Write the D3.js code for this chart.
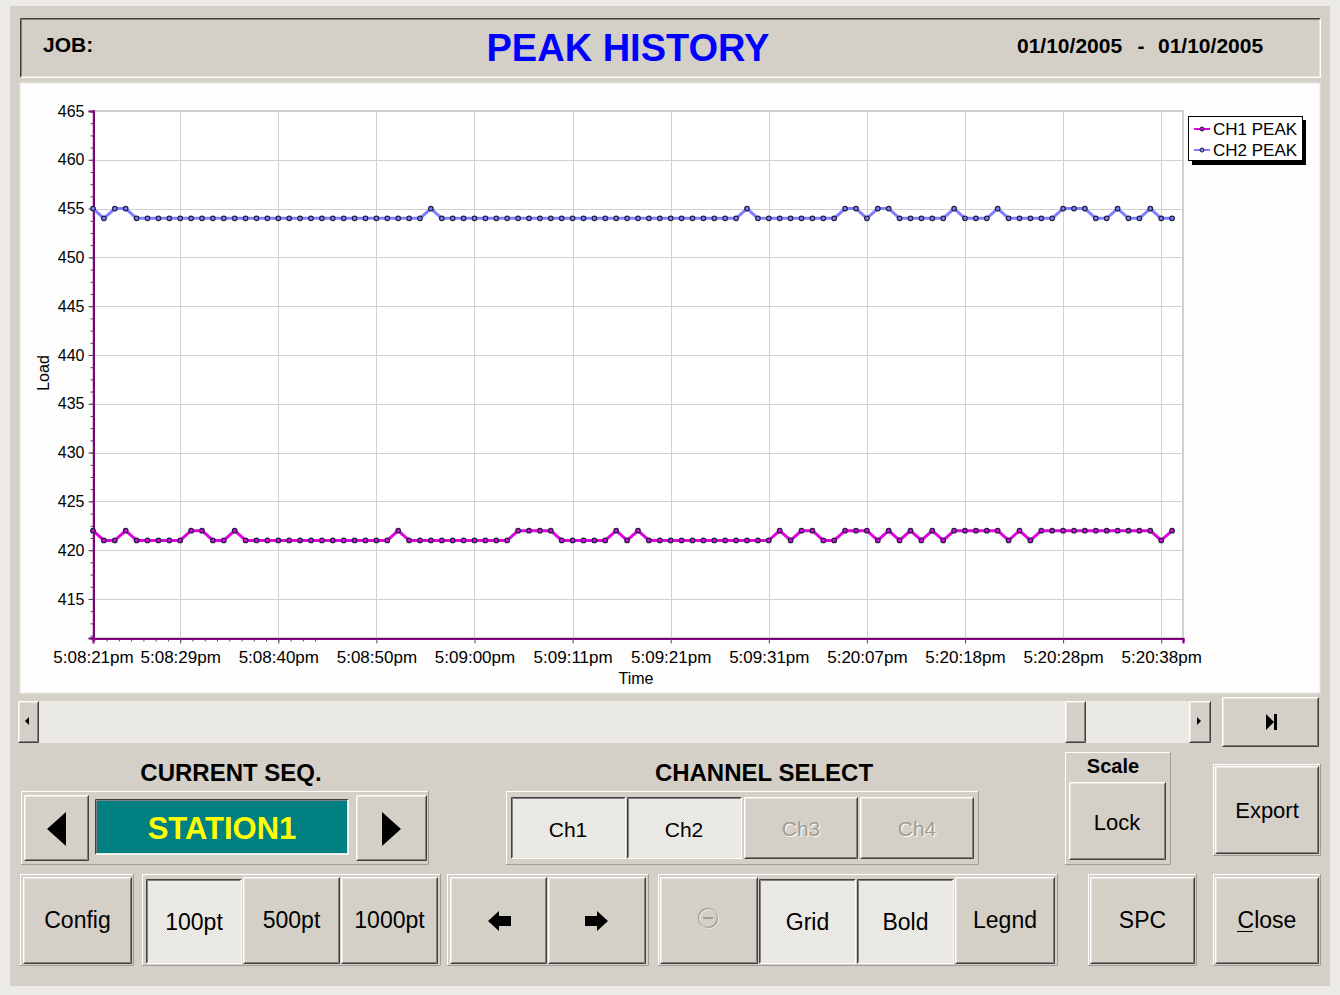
<!DOCTYPE html>
<html><head><meta charset="utf-8">
<script src="https://cdn.jsdelivr.net/npm/d3@7"></script>
<style>
html,body{margin:0;padding:0;background:#d4d0c8;}
svg{display:block;font-family:Arial,"Liberation Sans",sans-serif;}
</style></head><body>
<svg id="c" width="1340" height="995"></svg>
<script>
// ---------- DATA ----------
const seriesNames = ["CH1 PEAK", "CH2 PEAK"];
const ch1Peak = [422,421,421,422,421,421,421,421,421,422,
                 422,421,421,422,421,421,421,421,421,421,
                 421,421,421,421,421,421,421,421,422,421,
                 421,421,421,421,421,421,421,421,421,422,
                 422,422,422,421,421,421,421,421,422,421,
                 422,421,421,421,421,421,421,421,421,421,
                 421,421,421,422,421,422,422,421,421,422,
                 422,422,421,422,421,422,421,422,421,422,
                 422,422,422,422,421,422,421,422,422,422,
                 422,422,422,422,422,422,422,422,421,422];
const ch2Peak = [455,454,455,455,454,454,454,454,454,454,
                 454,454,454,454,454,454,454,454,454,454,
                 454,454,454,454,454,454,454,454,454,454,
                 454,455,454,454,454,454,454,454,454,454,
                 454,454,454,454,454,454,454,454,454,454,
                 454,454,454,454,454,454,454,454,454,454,
                 455,454,454,454,454,454,454,454,454,455,
                 455,454,455,455,454,454,454,454,454,455,
                 454,454,454,455,454,454,454,454,454,455,
                 455,455,454,454,455,454,454,455,454,454];
const timeTickIndex = [0,8,17,26,35,44,53,62,71,80,89,98];
const timeTickLabels = ["5:08:21pm","5:08:29pm","5:08:40pm","5:08:50pm","5:09:00pm","5:09:11pm",
                        "5:09:21pm","5:09:31pm","5:20:07pm","5:20:18pm","5:20:28pm","5:20:38pm"];
const loadTicks = [415,420,425,430,435,440,445,450,455,460,465];
const seriesColors = ["#e000e0", "#8080ff"];

// ---------- SETUP ----------
const svg = d3.select("#c");
const BG = "#d4d0c8";

function bevel(g, x, y, w, h, pressed) {
  const gg = g.append("g");
  gg.append("rect").attr("x", x).attr("y", y).attr("width", w).attr("height", h)
    .attr("fill", pressed ? "url(#dither)" : BG);
  const tl = pressed ? ["#404040", "#808080"] : ["#ffffff", "#e8e6e0"];
  const br = pressed ? ["#ffffff", "#e8e6e0"] : ["#404040", "#808080"];
  for (let i = 0; i < 2; i++) {
    const x0 = x + i + 0.5, y0 = y + i + 0.5, x1 = x + w - i - 0.5, y1 = y + h - i - 0.5;
    gg.append("path").attr("d", `M${x0},${y1}V${y0}H${x1}`).attr("stroke", tl[i]).attr("fill", "none");
    gg.append("path").attr("d", `M${x0},${y1}H${x1}V${y0}`).attr("stroke", br[i]).attr("fill", "none");
  }
  return gg;
}
function frame(g, x, y, w, h) {
  g.append("rect").attr("x", x + 0.5).attr("y", y + 0.5).attr("width", w - 1).attr("height", h - 1)
    .attr("fill", "none").attr("stroke", "#ffffff");
  g.append("path").attr("d", `M${x + w - 0.5},${y}V${y + h - 0.5}H${x}`).attr("stroke", "#a09c94").attr("fill", "none");
}
function label(g, x, y, str, opt) {
  opt = opt || {};
  return g.append("text").attr("x", x).attr("y", y).text(str)
    .attr("font-size", opt.size || 22).attr("font-weight", opt.weight || "normal")
    .attr("text-anchor", opt.anchor || "middle").attr("fill", opt.fill || "#000");
}

const defs = svg.append("defs");
const pat = defs.append("pattern").attr("id", "dither").attr("width", 2).attr("height", 2)
  .attr("patternUnits", "userSpaceOnUse");
pat.append("rect").attr("width", 2).attr("height", 2).attr("fill", "#f2f1ed");
pat.append("rect").attr("width", 1).attr("height", 1).attr("fill", "#e2e0da");
pat.append("rect").attr("x", 1).attr("y", 1).attr("width", 1).attr("height", 1).attr("fill", "#e2e0da");

// window background
svg.append("rect").attr("width", 1340).attr("height", 995).attr("fill", "#ecebe8");
svg.append("rect").attr("x", 10).attr("y", 6).attr("width", 1320).attr("height", 980).attr("fill", BG);

// ---------- HEADER ----------
const hdr = svg.append("g");
bevel(hdr, 20, 18, 1301, 60, true).select("rect").attr("fill", BG);
label(hdr, 43, 52, "JOB:", { size: 21, weight: "bold", anchor: "start" });
label(hdr, 628, 61, "PEAK HISTORY", { size: 38, weight: "bold", fill: "#0000ff" });
label(hdr, 1017, 53, "01/10/2005", { size: 21, weight: "bold", anchor: "start" });
label(hdr, 1141, 53, "-", { size: 21, weight: "bold" });
label(hdr, 1158, 53, "01/10/2005", { size: 21, weight: "bold", anchor: "start" });

// ---------- CHART PANEL ----------
const panel = svg.append("g");
panel.append("rect").attr("x", 20).attr("y", 83).attr("width", 1300).attr("height", 610)
  .attr("fill", "#fdfdfd").attr("stroke", "#e8e8e8");

const P = { l: 93, r: 1183, t: 111, b: 638 };
const x = d3.scaleLinear().domain([0, 100]).range([P.l, P.r]);
const y = d3.scaleLinear().domain([411, 465]).range([P.b, P.t]);

const plot = svg.append("g");
plot.append("rect").attr("x", P.l).attr("y", P.t).attr("width", P.r - P.l).attr("height", P.b - P.t)
  .attr("fill", "#ffffff").attr("stroke", "#a0a0a0");

// grid
plot.append("g").selectAll("line").data(loadTicks.filter(d => d < 465)).join("line")
  .attr("x1", P.l).attr("x2", P.r).attr("y1", d => Math.round(y(d)) + 0.5).attr("y2", d => Math.round(y(d)) + 0.5)
  .attr("stroke", "#d0d0d0");
plot.append("g").selectAll("line").data(timeTickIndex.slice(1)).join("line")
  .attr("y1", P.t).attr("y2", P.b).attr("x1", d => Math.round(x(d)) + 0.5).attr("x2", d => Math.round(x(d)) + 0.5)
  .attr("stroke", "#d0d0d0");

// y axis
const yMinor = d3.range(411.25, 465.01, 1.25);
const yAxisMinor = d3.axisLeft(y).tickValues(yMinor).tickSize(3).tickFormat("");
const yAxis = d3.axisLeft(y).tickValues(loadTicks).tickSize(5).tickPadding(4).tickFormat(d3.format("d"));
const gyMinor = plot.append("g").attr("transform", `translate(${P.l + 0.5},0)`).call(yAxisMinor);
const gy = plot.append("g").attr("transform", `translate(${P.l + 0.5},0)`).call(yAxis);
[gy, gyMinor].forEach(g => {
  g.select(".domain").attr("stroke", "#800080").attr("stroke-width", 2);
  g.selectAll(".tick line").attr("stroke", "#604060");
});
gy.selectAll(".tick text").attr("font-size", 16).attr("fill", "#000").attr("font-family", "Arial, 'Liberation Sans', sans-serif");

// x axis
const xMinor = d3.range(-8, 12).map(k => 8 + k * 9 / 8).filter(v => v > 0 && v <= 100);
const xAxisMinor = d3.axisBottom(x).tickValues(xMinor).tickSize(3).tickFormat("");
const xAxis = d3.axisBottom(x).tickValues(timeTickIndex).tickSize(5).tickPadding(7)
  .tickFormat((d, i) => timeTickLabels[i]);
const gxMinor = plot.append("g").attr("transform", `translate(0,${P.b + 0.5})`).call(xAxisMinor);
const gx = plot.append("g").attr("transform", `translate(0,${P.b + 0.5})`).call(xAxis);
[gx, gxMinor].forEach(g => {
  g.select(".domain").attr("stroke", "#800080").attr("stroke-width", 2);
  g.selectAll(".tick line").attr("stroke", "#604060");
});
gx.selectAll(".tick text").attr("font-size", 17).attr("fill", "#000").attr("font-family", "Arial, 'Liberation Sans', sans-serif");

label(plot, 636, 684, "Time", { size: 16 });
plot.append("text").attr("transform", "translate(49,373) rotate(-90)").attr("text-anchor", "middle")
  .attr("font-size", 16).text("Load");

// series
const line = d3.line().x((d, i) => x(i)).y(d => y(d));
[ch1Peak, ch2Peak].forEach((data, s) => {
  plot.append("path").datum(data).attr("d", line).attr("fill", "none")
    .attr("stroke", seriesColors[s]).attr("stroke-width", 3).attr("stroke-linejoin", "round");
  plot.append("g").selectAll("circle").data(data).join("circle")
    .attr("cx", (d, i) => x(i)).attr("cy", d => y(d)).attr("r", 2.3)
    .attr("fill", seriesColors[s]).attr("stroke", "#202040").attr("stroke-width", 1.2);
});

// legend
const lg = svg.append("g");
lg.append("rect").attr("x", 1192).attr("y", 120).attr("width", 114).attr("height", 45).attr("fill", "#000");
lg.append("rect").attr("x", 1188.5).attr("y", 116.5).attr("width", 114).attr("height", 44)
  .attr("fill", "#fff").attr("stroke", "#000");
seriesNames.forEach((n, i) => {
  const yy = 129 + i * 21;
  lg.append("line").attr("x1", 1194).attr("x2", 1210).attr("y1", yy).attr("y2", yy)
    .attr("stroke", seriesColors[i]).attr("stroke-width", 2);
  lg.append("circle").attr("cx", 1202).attr("cy", yy).attr("r", 2).attr("fill", seriesColors[i])
    .attr("stroke", "#202040");
  label(lg, 1213, yy + 6, n, { size: 17, anchor: "start" });
});

// ---------- SCROLLBAR ----------
const sb = svg.append("g");
sb.append("rect").attr("x", 18).attr("y", 701).attr("width", 1193).attr("height", 42).attr("fill", "url(#dither)");
bevel(sb, 18, 701, 21, 42, false);
sb.append("path").attr("d", "M25,721 L29,717 L29,725 Z").attr("fill", "#000");
bevel(sb, 1065, 701, 21, 42, false);
bevel(sb, 1189, 701, 22, 42, false);
sb.append("path").attr("d", "M1197,717 L1201,721 L1197,725 Z").attr("fill", "#000");
bevel(sb, 1222, 697, 97, 50, false);
sb.append("path").attr("d", "M1266,714 L1274,722 L1266,730 Z").attr("fill", "#000");
sb.append("rect").attr("x", 1274).attr("y", 714).attr("width", 3).attr("height", 16).attr("fill", "#000");

// ---------- CONTROLS ----------
const ui = svg.append("g");
label(ui, 231, 781, "CURRENT SEQ.", { size: 24, weight: "bold" });
frame(ui, 21, 791, 408, 74);
bevel(ui, 24, 795, 65, 66, false);
ui.append("path").attr("d", "M47,829 L66,812 L66,846 Z").attr("fill", "#000");
bevel(ui, 95, 799, 254, 56, true);
ui.append("rect").attr("x", 97).attr("y", 801).attr("width", 250).attr("height", 52).attr("fill", "#008080");
label(ui, 222, 839, "STATION1", { size: 31, weight: "bold", fill: "#ffff00" });
bevel(ui, 356, 795, 71, 66, false);
ui.append("path").attr("d", "M401,829 L382,812 L382,846 Z").attr("fill", "#000");

label(ui, 764, 781, "CHANNEL SELECT", { size: 24, weight: "bold" });
frame(ui, 506, 791, 473, 74);
const chans = [["Ch1", 511, true, true], ["Ch2", 627, true, true], ["Ch3", 744, false, false], ["Ch4", 860, false, false]];
chans.forEach(([t, bx, pr, en]) => {
  bevel(ui, bx, 797, pr ? 115 : 114, 62, pr);
  const cx = bx + 57;
  if (!en) label(ui, cx + 1, 837, t, { size: 21, fill: "#ffffff" });
  label(ui, cx, 836 + (pr ? 1 : 0), t, { size: 21, fill: en ? "#000" : "#a09c94" });
});

frame(ui, 1065, 752, 106, 113);
label(ui, 1113, 773, "Scale", { size: 20, weight: "bold" });
bevel(ui, 1069, 782, 97, 78, false);
label(ui, 1117, 830, "Lock", { size: 22 });

frame(ui, 1213, 764, 108, 92);
bevel(ui, 1215, 766, 104, 88, false);
label(ui, 1267, 818, "Export", { size: 22 });

// bottom row
const br = [
  { f: [20, 874, 114, 92], b: [[23, 877, 109, 87, "Config", false]] },
  { f: [142, 874, 299, 92], b: [[146, 879, 96, 85, "100pt", true], [243, 877, 97, 87, "500pt", false], [341, 877, 97, 87, "1000pt", false]] },
  { f: [447, 874, 202, 92], b: [[450, 877, 97, 87, "", false], [548, 877, 98, 87, "", false]] },
  { f: [658, 874, 400, 92], b: [[660, 877, 98, 87, "", false], [759, 879, 97, 85, "Grid", true], [857, 879, 97, 85, "Bold", true], [955, 877, 100, 87, "Legnd", false]] },
  { f: [1088, 874, 109, 92], b: [[1090, 877, 105, 87, "SPC", false]] },
  { f: [1213, 874, 108, 92], b: [[1215, 877, 104, 87, "Close", false]] }
];
br.forEach(grp => {
  frame(ui, ...grp.f);
  grp.b.forEach(([bx, by, bw, bh, t, pr]) => {
    bevel(ui, bx, by, bw, bh, pr);
    if (t) label(ui, bx + bw / 2, 928 + (pr ? 2 : 0), t, { size: 23 });
  });
});
// underline of C in Close
ui.append("line").attr("x1", 1237).attr("x2", 1253).attr("y1", 931.5).attr("y2", 931.5).attr("stroke", "#000");
// arrows
ui.append("path").attr("d", "M488,921 L499,911 L499,916 L511,916 L511,926 L499,926 L499,931 Z").attr("fill", "#000");
ui.append("path").attr("d", "M608,921 L597,911 L597,916 L585,916 L585,926 L597,926 L597,931 Z").attr("fill", "#000");
// disabled minus icon
ui.append("circle").attr("cx", 708).attr("cy", 918).attr("r", 9.5).attr("fill", "none").attr("stroke", "#a09c94").attr("stroke-width", 1.5);
ui.append("circle").attr("cx", 709).attr("cy", 919).attr("r", 9.5).attr("fill", "none").attr("stroke", "#ffffff").attr("stroke-width", 0.8).attr("opacity", 0.8);
ui.append("line").attr("x1", 703).attr("x2", 713).attr("y1", 918).attr("y2", 918).attr("stroke", "#a09c94").attr("stroke-width", 2);
</script>
</body></html>
